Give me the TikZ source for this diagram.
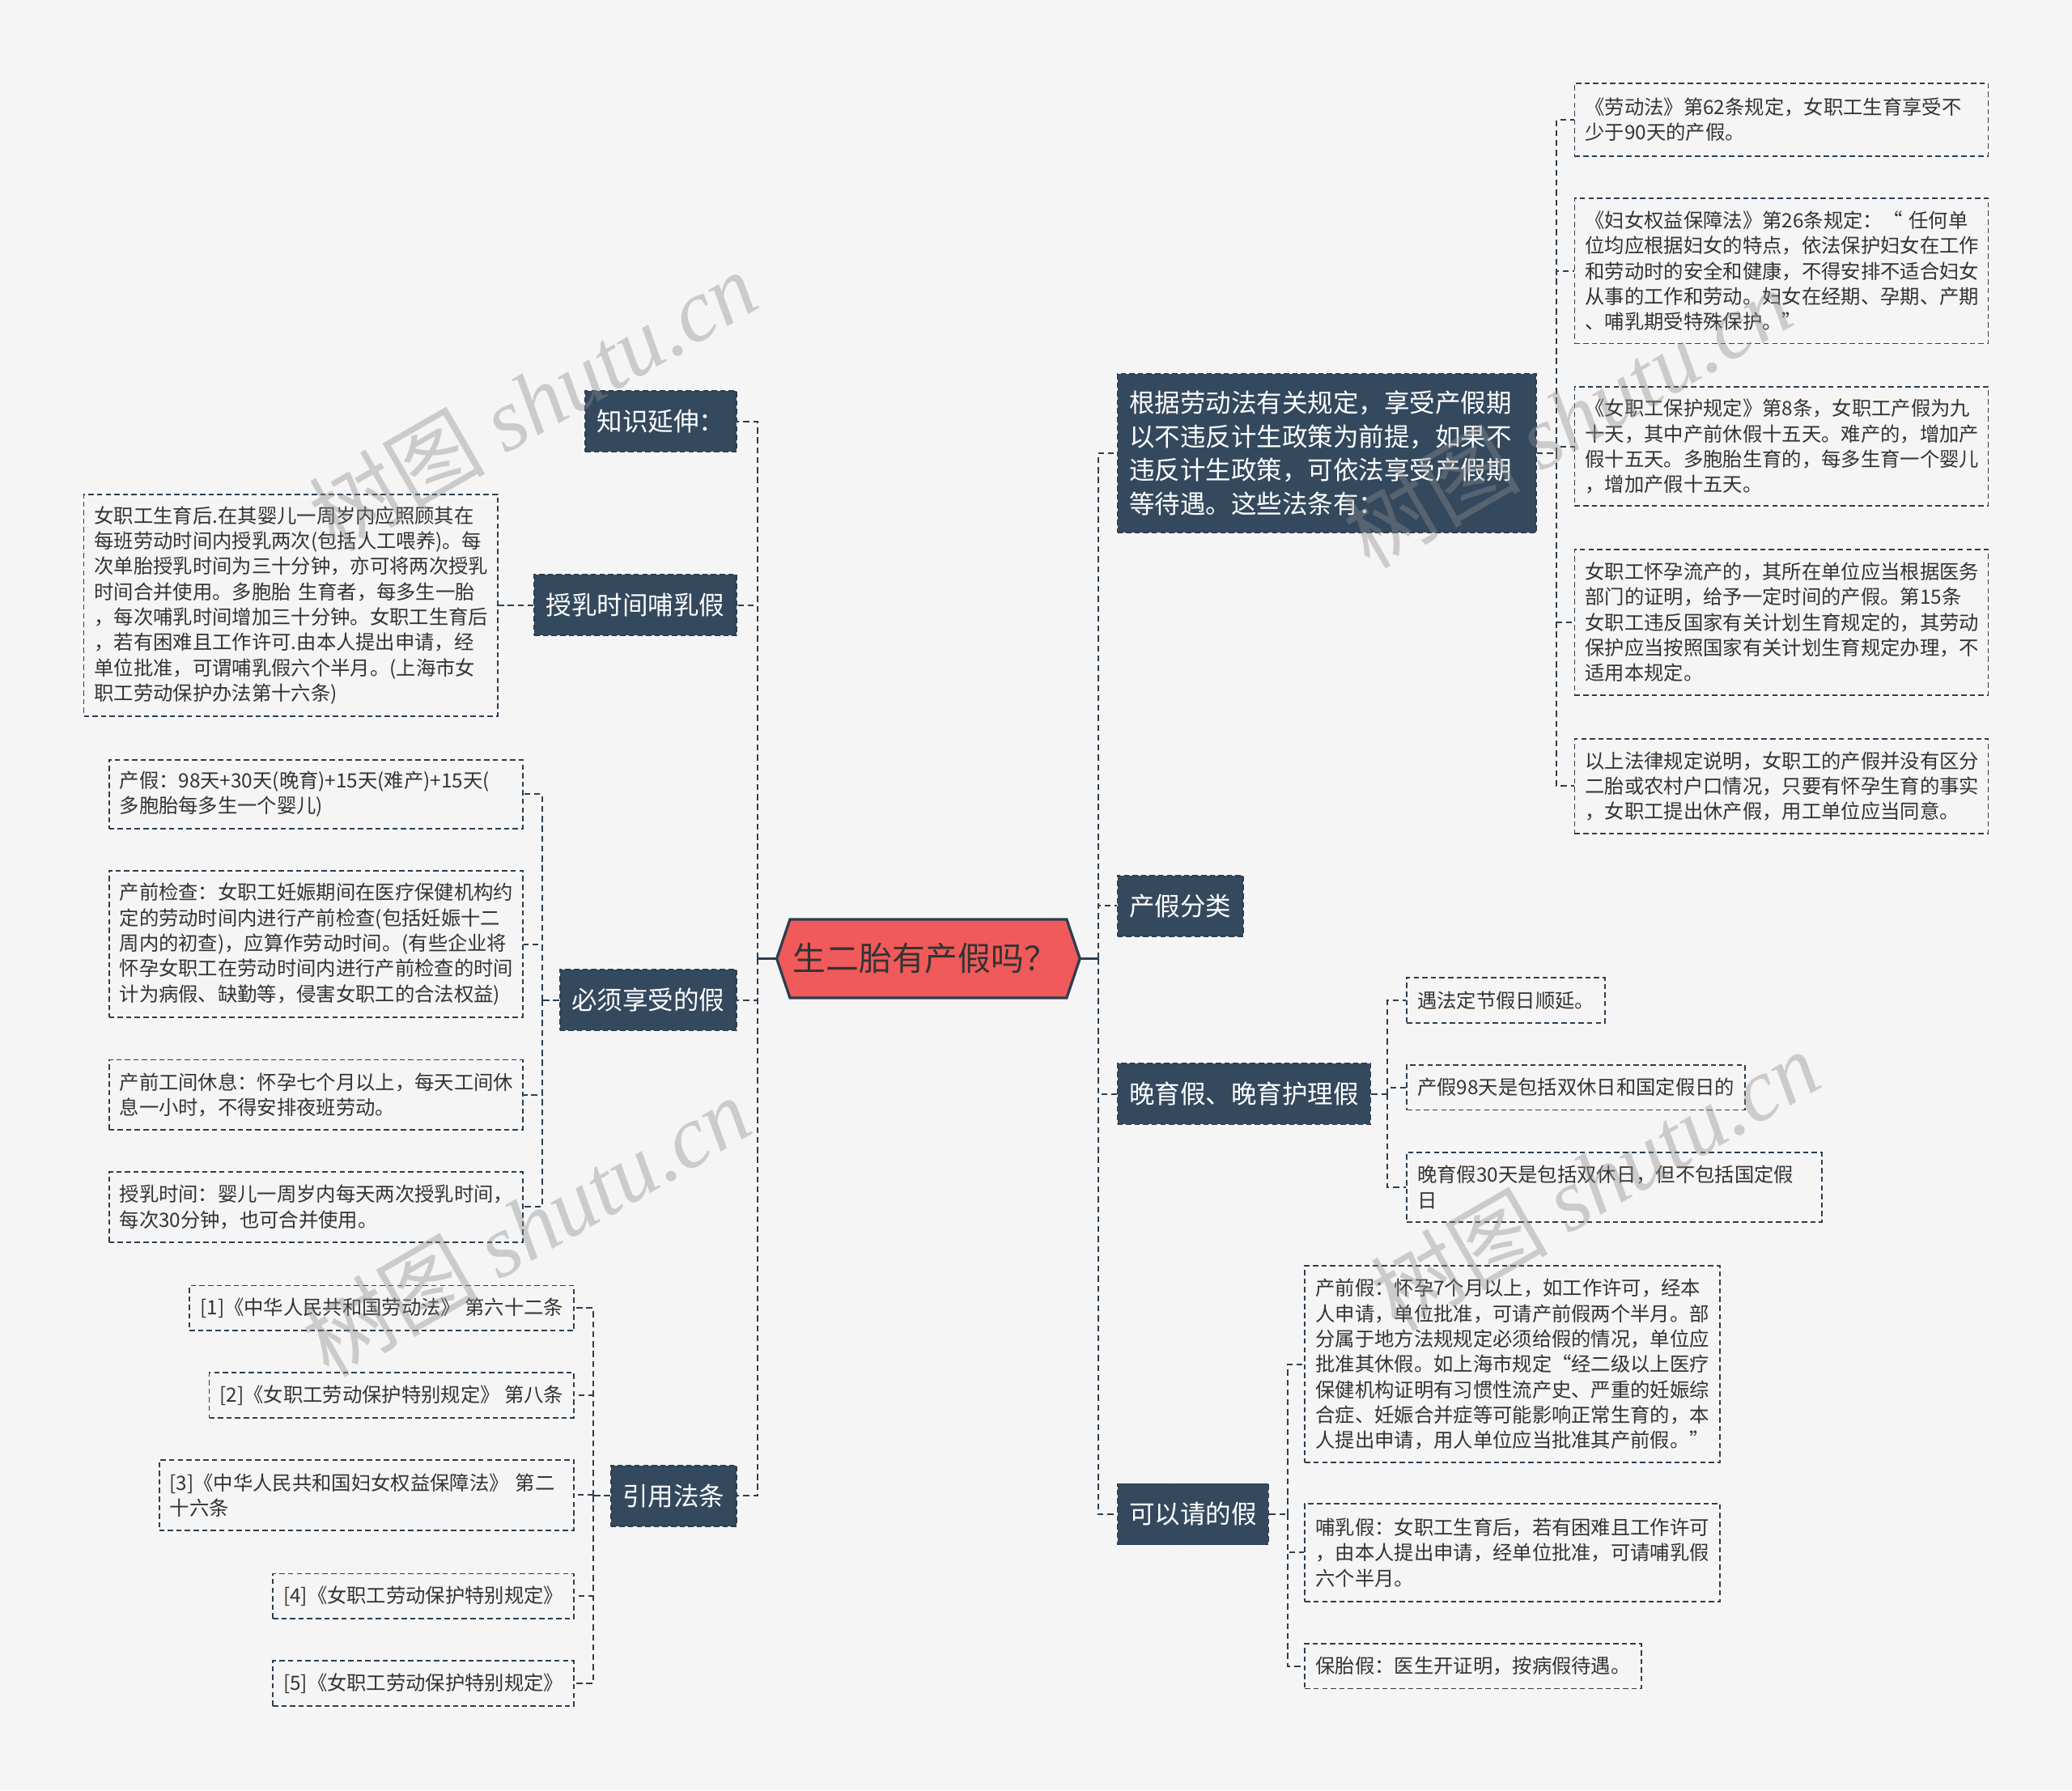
\documentclass[tikz,border=0pt]{standalone}
\usepackage{fontspec}
\setmainfont{Noto Sans CJK SC}
\newfontfamily\wmlatin{Liberation Serif}
\usetikzlibrary{calc,backgrounds}
\definecolor{bgc}{HTML}{F5F5F5}
\definecolor{navy}{HTML}{34495E}
\definecolor{edgec}{HTML}{2C3E50}
\definecolor{rootred}{HTML}{F05A5A}
\definecolor{txtc}{HTML}{333333}
\definecolor{wmc}{HTML}{8C8C8C}
\tikzset{
 leaf/.style={draw=edgec, line width=1.1pt, dash pattern=on 4pt off 2.5pt, text=txtc, align=left, inner xsep=8pt, inner ysep=0pt, minimum height=34pt, font=\fontsize{14.9pt}{19.2pt}\selectfont},
 topic/.style={fill=navy, draw=edgec, line width=1.1pt, dash pattern=on 4pt off 2.5pt, text=white, align=left, inner xsep=9pt, inner ysep=0pt, minimum height=46pt, font=\fontsize{19.3pt}{25.5pt}\selectfont},
 conn/.style={draw=edgec, line width=1.2pt, dash pattern=on 4.5pt off 3pt},
 rootlink/.style={draw=edgec, line width=2pt},
 roottext/.style={text=txtc, minimum width=229pt, minimum height=59pt, inner sep=0pt, font=\fontsize{25pt}{30pt}\selectfont},
 rootshape/.style={fill=rootred, draw=edgec, line width=2pt, line join=miter},
 wm/.style={text=wmc, text opacity=0.40, font=\fontsize{67pt}{67pt}\selectfont, inner sep=0pt},
}
\begin{document}
\begin{tikzpicture}[x=1pt,y=-1pt]
\useasboundingbox (0,0) rectangle (1568,1355);

% root
\node[roottext] (root) at (700,725.5) {生二胎有产假吗？};
\begin{pgfonlayer}{background}
 \fill[bgc] (0,0) rectangle (1568,1355);
 \draw[rootshape] ([xshift=2.5pt]root.west) -- ([xshift=12.5pt]root.north west) -- ([xshift=-7.5pt]root.north east) -- ([xshift=2.5pt]root.east) -- ([xshift=-7.5pt]root.south east) -- ([xshift=12.5pt]root.south west) -- cycle;
\end{pgfonlayer}
\coordinate (Lj) at (573,725.5);
\coordinate (Rj) at (831,725.5);
\draw[rootlink] ([xshift=2.5pt]root.west) -- (Lj);
\draw[rootlink] ([xshift=2.5pt]root.east) -- (Rj);

% ---------- right side ----------
\node[topic, anchor=west, text width=299pt, minimum height=120pt] (R1) at (845,343) {根据劳动法有关规定，享受产假期\\以不违反计生政策为前提，如果不\\违反计生政策，可依法享受产假期\\等待遇。这些法条有：};
\node[topic, anchor=west] (R2) at (845,685.5) {产假分类};
\node[topic, anchor=west] (R3) at (845,828) {晚育假、晚育护理假};
\node[topic, anchor=west] (R4) at (845,1146) {可以请的假};
\foreach \n in {R1,R2,R3,R4} \draw[conn] (Rj) |- (\n.west);

% children of R1
\node[leaf, anchor=west, text width=297pt, minimum height=55pt] (r1) at (1191,90.5) {《劳动法》第62条规定，女职工生育享受不\\少于90天的产假。};
\node[leaf, anchor=west, text width=297pt, minimum height=110pt] (r2) at (1191,205) {《妇女权益保障法》第26条规定：“ 任何单\\位均应根据妇女的特点，依法保护妇女在工作\\和劳动时的安全和健康，不得安排不适合妇女\\从事的工作和劳动。妇女在经期、孕期、产期\\、哺乳期受特殊保护。”};
\node[leaf, anchor=west, text width=297pt, minimum height=90pt] (r3) at (1191,338) {《女职工保护规定》第8条，女职工产假为九\\十天，其中产前休假十五天。难产的，增加产\\假十五天。多胞胎生育的，每多生育一个婴儿\\，增加产假十五天。};
\node[leaf, anchor=west, text width=297pt, minimum height=110pt] (r4) at (1191,471) {女职工怀孕流产的，其所在单位应当根据医务\\部门的证明，给予一定时间的产假。第15条\\女职工违反国家有关计划生育规定的，其劳动\\保护应当按照国家有关计划生育规定办理，不\\适用本规定。};
\node[leaf, anchor=west, text width=297pt, minimum height=72pt] (r5) at (1191,595) {以上法律规定说明，女职工的产假并没有区分\\二胎或农村户口情况，只要有怀孕生育的事实\\，女职工提出休产假，用工单位应当同意。};
\coordinate (R1j) at ($(R1.east)+(15,0)$);
\draw[conn] (R1.east) -- (R1j);
\foreach \n in {r1,r2,r3,r4,r5} \draw[conn] (R1j) |- (\n.west);

% children of R3
\node[leaf, anchor=west] (s1) at (1064,757) {遇法定节假日顺延。};
\node[leaf, anchor=west] (s2) at (1064,823) {产假98天是包括双休日和国定假日的};
\node[leaf, anchor=west, text width=298pt, minimum height=53pt] (s3) at (1064,898.5) {晚育假30天是包括双休日，但不包括国定假\\日};
\coordinate (R3j) at ($(R3.east)+(12,0)$);
\draw[conn] (R3.east) -- (R3j);
\foreach \n in {s1,s2,s3} \draw[conn] (R3j) |- (\n.west);

% children of R4
\node[leaf, anchor=west, text width=298pt, minimum height=149pt] (t1) at (987,1032.5) {产前假：怀孕7个月以上，如工作许可，经本\\人申请，单位批准，可请产前假两个半月。部\\分属于地方法规规定必须给假的情况，单位应\\批准其休假。如上海市规定“经二级以上医疗\\保健机构证明有习惯性流产史、严重的妊娠综\\合症、妊娠合并症等可能影响正常生育的，本\\人提出申请，用人单位应当批准其产前假。”};
\node[leaf, anchor=west, text width=298pt, minimum height=74pt] (t2) at (987,1175) {哺乳假：女职工生育后，若有困难且工作许可\\，由本人提出申请，经单位批准，可请哺乳假\\六个半月。};
\node[leaf, anchor=west] (t3) at (987,1261) {保胎假：医生开证明，按病假待遇。};
\coordinate (R4j) at ($(R4.east)+(14,0)$);
\draw[conn] (R4.east) -- (R4j);
\foreach \n in {t1,t2,t3} \draw[conn] (R4j) |- (\n.west);

% ---------- left side ----------
\node[topic, anchor=east] (L1) at (558,319) {知识延伸：};
\node[topic, anchor=east] (L2) at (558,458) {授乳时间哺乳假};
\node[topic, anchor=east] (L3) at (558,757) {必须享受的假};
\node[topic, anchor=east] (L4) at (558,1132) {引用法条};
\foreach \n in {L1,L2,L3,L4} \draw[conn] (Lj) |- (\n.east);

% child of L2
\node[leaf, anchor=east, text width=297pt, minimum height=168pt] (l0) at (377,458) {女职工生育后.在其婴儿一周岁内应照顾其在\\每班劳动时间内授乳两次(包括人工喂养)。每\\次单胎授乳时间为三十分钟，亦可将两次授乳\\时间合并使用。多胞胎 生育者，每多生一胎\\，每次哺乳时间增加三十分钟。女职工生育后\\，若有困难且工作许可.由本人提出申请，经\\单位批准，可谓哺乳假六个半月。(上海市女\\职工劳动保护办法第十六条)};
\draw[conn] (L2.west) -- (l0.east);

% children of L3
\node[leaf, anchor=east, text width=297pt, minimum height=52pt] (m1) at (396,601) {产假：98天+30天(晚育)+15天(难产)+15天(\\多胞胎每多生一个婴儿)};
\node[leaf, anchor=east, text width=297pt, minimum height=111pt] (m2) at (396,714.5) {产前检查：女职工妊娠期间在医疗保健机构约\\定的劳动时间内进行产前检查(包括妊娠十二\\周内的初查)，应算作劳动时间。(有些企业将\\怀孕女职工在劳动时间内进行产前检查的时间\\计为病假、缺勤等，侵害女职工的合法权益)};
\node[leaf, anchor=east, text width=297pt, minimum height=53pt] (m3) at (396,828.5) {产前工间休息：怀孕七个月以上，每天工间休\\息一小时，不得安排夜班劳动。};
\node[leaf, anchor=east, text width=297pt, minimum height=53pt] (m4) at (396,913.5) {授乳时间：婴儿一周岁内每天两次授乳时间，\\每次30分钟，也可合并使用。};
\coordinate (L3j) at ($(L3.west)+(-13,0)$);
\draw[conn] (L3.west) -- (L3j);
\foreach \n in {m1,m2,m3,m4} \draw[conn] (L3j) |- (\n.east);

% children of L4
\node[leaf, anchor=east] (q1) at (435,990) {[1]《中华人民共和国劳动法》 第六十二条};
\node[leaf, anchor=east] (q2) at (435,1056) {[2]《女职工劳动保护特别规定》 第八条};
\node[leaf, anchor=east, text width=298pt, minimum height=53pt] (q3) at (435,1131.5) {[3]《中华人民共和国妇女权益保障法》 第二\\十六条};
\node[leaf, anchor=east] (q4) at (435,1208) {[4]《女职工劳动保护特别规定》};
\node[leaf, anchor=east] (q5) at (435,1274) {[5]《女职工劳动保护特别规定》};
\coordinate (L4j) at ($(L4.west)+(-13,0)$);
\draw[conn] (L4.west) -- (L4j);
\foreach \n in {q1,q2,q3,q4,q5} \draw[conn] (L4j) |- (\n.east);

% ---------- watermarks ----------
\node[wm, rotate=30] (w1) at (403,303) {树图 {\wmlatin\itshape shutu.cn}};
\node[wm, rotate=30] (w2) at (398,928) {树图 {\wmlatin\itshape shutu.cn}};
\node[wm, rotate=30] (w3) at (1186,316) {树图 {\wmlatin\itshape shutu.cn}};
\node[wm, rotate=30] (w4) at (1207,893) {树图 {\wmlatin\itshape shutu.cn}};
\end{tikzpicture}
\end{document}
